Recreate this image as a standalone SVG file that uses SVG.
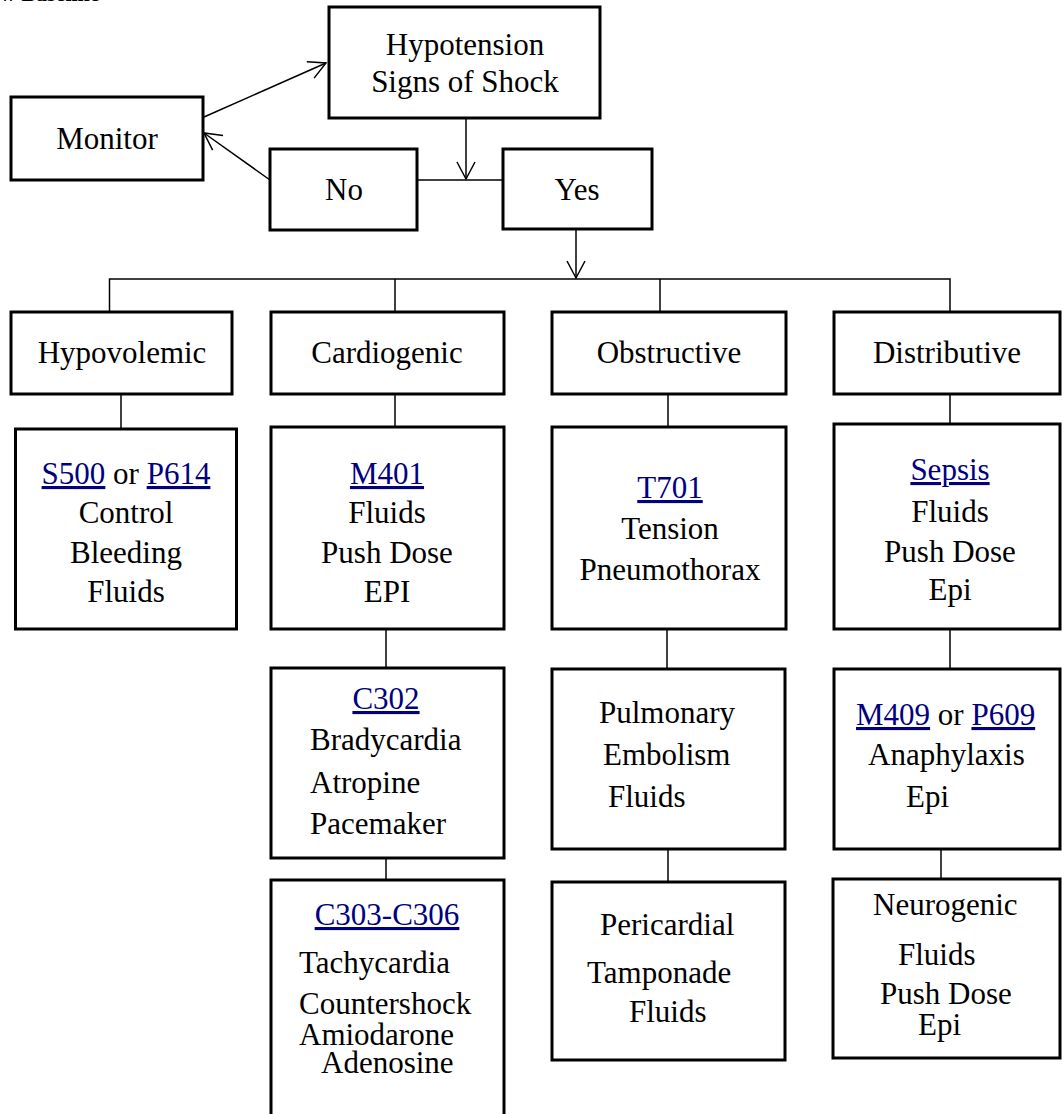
<svg xmlns="http://www.w3.org/2000/svg" width="1062" height="1114" viewBox="0 0 1062 1114">
  <style>
    .box { fill: #ffffff; stroke: #000000; stroke-width: 3; }
    .wire { fill: none; stroke: #000000; stroke-width: 1.5; }
    text { font-family: "Liberation Serif", "Times New Roman", serif; font-size: 31px; fill: #000000; }
    .c { text-anchor: middle; }
    .link { fill: #000080; text-decoration: underline; }
    .head { font-weight: bold; font-size: 22px; }
  </style>
  <defs>
    <marker id="arrow" viewBox="0 0 20 20" refX="18" refY="10" markerWidth="20" markerHeight="20" markerUnits="userSpaceOnUse" orient="auto">
      <path d="M1,1 L18,10 L1,19" fill="none" stroke="#000000" stroke-width="1.5"/>
    </marker>
  </defs>
  <rect width="1062" height="1114" fill="#ffffff"/>

  <text class="head" x="0" y="1">w Baseline</text>

  <!-- connectors -->
  <g id="connectors">
    <line class="wire" x1="204" y1="117" x2="326" y2="63" marker-end="url(#arrow)"/>
    <line class="wire" x1="270" y1="180" x2="204" y2="133" marker-end="url(#arrow)"/>
    <line class="wire" x1="466" y1="118" x2="466" y2="179" marker-end="url(#arrow)"/>
    <line class="wire" x1="418" y1="180" x2="503" y2="180"/>
    <line class="wire" x1="576" y1="229" x2="576" y2="278" marker-end="url(#arrow)"/>
    <polyline class="wire" points="109.5,312 109.5,279 950,279 950,312"/>
    <line class="wire" x1="395" y1="279" x2="395" y2="312"/>
    <line class="wire" x1="660" y1="279" x2="660" y2="312"/>
    <line class="wire" x1="121" y1="394" x2="121" y2="429"/>
    <line class="wire" x1="395" y1="394" x2="395" y2="427"/>
    <line class="wire" x1="668" y1="394" x2="668" y2="427"/>
    <line class="wire" x1="950" y1="394" x2="950" y2="424"/>
    <line class="wire" x1="386" y1="629" x2="386" y2="668"/>
    <line class="wire" x1="386" y1="858" x2="386" y2="880"/>
    <line class="wire" x1="667" y1="629" x2="667" y2="669"/>
    <line class="wire" x1="668" y1="849" x2="668" y2="882"/>
    <line class="wire" x1="950" y1="629" x2="950" y2="669"/>
    <line class="wire" x1="941" y1="849" x2="941" y2="879"/>
  </g>

  <!-- top decision -->
  <g id="hypotension">
    <rect class="box" x="329" y="7" width="271" height="111"/>
    <text class="c" x="465" y="55">Hypotension</text>
    <text class="c" x="465" y="92">Signs of Shock</text>
  </g>
  <g id="monitor">
    <rect class="box" x="11" y="97" width="192" height="83"/>
    <text class="c" x="107" y="149">Monitor</text>
  </g>
  <g id="no">
    <rect class="box" x="270" y="149" width="147" height="81"/>
    <text class="c" x="344" y="200">No</text>
  </g>
  <g id="yes">
    <rect class="box" x="503" y="149" width="149" height="80"/>
    <text class="c" x="577" y="200">Yes</text>
  </g>

  <!-- shock categories -->
  <g id="hypovolemic">
    <rect class="box" x="11" y="312" width="221" height="82"/>
    <text class="c" x="122" y="363">Hypovolemic</text>
  </g>
  <g id="cardiogenic">
    <rect class="box" x="271" y="312" width="233" height="82"/>
    <text class="c" x="387" y="363">Cardiogenic</text>
  </g>
  <g id="obstructive">
    <rect class="box" x="552" y="312" width="234" height="82"/>
    <text class="c" x="669" y="363">Obstructive</text>
  </g>
  <g id="distributive">
    <rect class="box" x="834" y="312" width="226" height="82"/>
    <text class="c" x="947" y="363">Distributive</text>
  </g>

  <!-- hypovolemic detail -->
  <g id="hypovolemic-care">
    <rect class="box" x="15.5" y="429" width="221" height="200"/>
    <text class="c" x="126" y="484"><tspan class="link">S500</tspan> or <tspan class="link">P614</tspan></text>
    <text class="c" x="126" y="523">Control</text>
    <text class="c" x="126" y="563">Bleeding</text>
    <text class="c" x="126" y="602">Fluids</text>
  </g>

  <!-- cardiogenic detail -->
  <g id="cardiogenic-care">
    <rect class="box" x="271" y="427" width="233" height="202"/>
    <text class="c link" x="387" y="484">M401</text>
    <text class="c" x="387" y="523">Fluids</text>
    <text class="c" x="387" y="563">Push Dose</text>
    <text class="c" x="387" y="602">EPI</text>
  </g>
  <g id="bradycardia">
    <rect class="box" x="271" y="668" width="233" height="190"/>
    <text class="c link" x="386" y="709">C302</text>
    <text x="310" y="750">Bradycardia</text>
    <text x="310" y="793">Atropine</text>
    <text x="310" y="834">Pacemaker</text>
  </g>
  <g id="tachycardia">
    <rect class="box" x="271" y="880" width="233" height="250"/>
    <text class="c link" x="387" y="925">C303-C306</text>
    <text x="299" y="973">Tachycardia</text>
    <text x="299" y="1014">Countershock</text>
    <text x="299" y="1045">Amiodarone</text>
    <text x="321" y="1073">Adenosine</text>
  </g>

  <!-- obstructive detail -->
  <g id="tension-pneumothorax">
    <rect class="box" x="552" y="427" width="234" height="202"/>
    <text class="c link" x="670" y="498">T701</text>
    <text class="c" x="670" y="539">Tension</text>
    <text class="c" x="670" y="580">Pneumothorax</text>
  </g>
  <g id="pulmonary-embolism">
    <rect class="box" x="552" y="669" width="233" height="180"/>
    <text x="599" y="723">Pulmonary</text>
    <text x="603" y="765">Embolism</text>
    <text x="608" y="807">Fluids</text>
  </g>
  <g id="pericardial-tamponade">
    <rect class="box" x="552" y="882" width="233" height="178"/>
    <text x="600" y="935">Pericardial</text>
    <text x="587" y="983">Tamponade</text>
    <text x="629" y="1022">Fluids</text>
  </g>

  <!-- distributive detail -->
  <g id="sepsis">
    <rect class="box" x="834" y="424" width="226" height="205"/>
    <text class="c link" x="950" y="480">Sepsis</text>
    <text class="c" x="950" y="522">Fluids</text>
    <text class="c" x="950" y="562">Push Dose</text>
    <text class="c" x="950" y="600">Epi</text>
  </g>
  <g id="anaphylaxis">
    <rect class="box" x="834" y="669" width="226" height="180"/>
    <text x="856" y="725"><tspan class="link">M409</tspan> or <tspan class="link">P609</tspan></text>
    <text x="868" y="765">Anaphylaxis</text>
    <text x="906" y="807">Epi</text>
  </g>
  <g id="neurogenic">
    <rect class="box" x="833" y="879" width="227" height="179"/>
    <text x="873" y="915">Neurogenic</text>
    <text x="898" y="965">Fluids</text>
    <text x="880" y="1004">Push Dose</text>
    <text x="918" y="1035">Epi</text>
  </g>
</svg>
